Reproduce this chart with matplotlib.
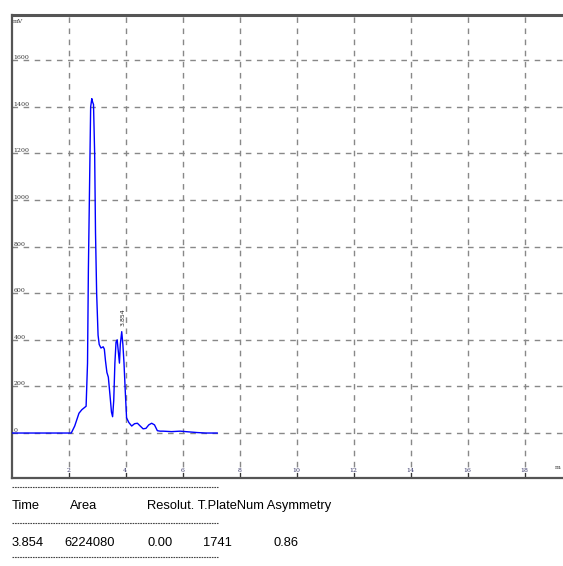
import matplotlib
matplotlib.use("Agg")
import matplotlib.pyplot as plt
from matplotlib.lines import Line2D

# =========================
# Data
# =========================
time_min = [0, 2.08, 2.2, 2.35, 2.45, 2.6, 2.65, 2.68, 2.72, 2.76, 2.8, 2.83,
            2.86, 2.9, 2.93, 2.97, 3.02, 3.06, 3.12, 3.2, 3.24, 3.28, 3.33,
            3.38, 3.44, 3.49, 3.53, 3.57, 3.61, 3.65, 3.69, 3.73, 3.77, 3.8,
            3.85, 3.89, 3.93, 3.97, 4.02, 4.1, 4.2, 4.3, 4.4, 4.5, 4.6, 4.7,
            4.8, 4.9, 5.0, 5.1, 5.2, 5.3, 5.6, 5.9, 6.2, 6.5, 6.8, 7.2]
signal_mv = [0, 0, 30, 85, 100, 115, 300, 700, 1050, 1400, 1435, 1420,
             1410, 1200, 860, 600, 420, 380, 365, 370, 360, 310, 260,
             240, 160, 90, 70, 140, 300, 390, 400, 350, 300, 380,
             435, 380, 300, 190, 65, 45, 30, 40, 42, 30, 18, 20,
             35, 42, 35, 10, 8, 8, 6, 8, 5, 2, 0, 0]

x_ticks = [2, 4, 6, 8, 10, 12, 14, 16, 18]
y_ticks = [0, 200, 400, 600, 800, 1000, 1200, 1400, 1600]

peak_time = 3.854
peak_height = 435

table_header = ["Time", "Area", "Resolut. T.PlateNum Asymmetry"]
table_values = ["3.854", "6224080", "0.00", "1741", "0.86"]

# =========================
# Plot
# =========================
plt.rcParams["font.family"] = ["Liberation Sans", "DejaVu Sans"]

fig = plt.figure(figsize=(5.63, 5.66), dpi=100)
ax = fig.add_axes([12 / 563, 88 / 566, 551 / 563, 463 / 566])

ax.plot(time_min, signal_mv, color="#0000ff", lw=1.0, zorder=3)

ax.set_xlim(0, 551 / 28.5)
ax.set_ylim(-193, 1794)

for xv in x_ticks:
    ax.axvline(xv, color="#888888", ls=(0, (4, 4)), lw=1, zorder=1)
for yv in y_ticks:
    ax.axhline(yv, color="#888888", ls=(0, (4, 4)), lw=1, zorder=1)

ax.set_xticks([])
ax.set_yticks([])

# tiny in-axes tick labels
for xv in x_ticks:
    ax.text(xv - 0.03, -170, str(xv), fontsize=4.5, ha="center", va="bottom",
            color="#333366", family="DejaVu Serif")
    ax.plot([xv, xv], [-193, -172], color="#333333", lw=0.8)
for yv in y_ticks:
    ax.text(0.05, yv, str(yv), fontsize=4.5, ha="left", va="bottom",
            color="#333333", family="DejaVu Serif")
ax.text(0.02, 1775, "mV", fontsize=4.5, ha="left", va="top",
        color="#333333", family="DejaVu Serif")
ax.text(19.15, -150, "m", fontsize=4.5, ha="center", va="center",
        color="#333333", family="DejaVu Serif")

ax.text(peak_time + 0.04, peak_height + 25, f"{peak_time:.3f}", rotation=90,
        fontsize=4.5, ha="center", va="bottom", color="#222222",
        family="DejaVu Sans")

for side in ["top", "left", "bottom"]:
    ax.spines[side].set_color("#555555")
ax.spines["top"].set_linewidth(2.2)
ax.spines["left"].set_linewidth(1.6)
ax.spines["bottom"].set_linewidth(1.6)
ax.spines["right"].set_visible(False)

# =========================
# Result table under the chart
# =========================
def dash_row(y_px):
    fig.add_artist(Line2D([12 / 563, 218 / 563], [1 - y_px / 566] * 2,
                          color="#444444", lw=0.8, ls=(0, (1.5, 0.8))))

dash_row(487)
dash_row(523)
dash_row(557)

fs = 9.3
hy = 1 - 506 / 566
fig.text(12 / 563, hy, table_header[0], fontsize=fs, va="center")
fig.text(70 / 563, hy, table_header[1], fontsize=fs, va="center")
fig.text(147 / 563, hy, table_header[2], fontsize=fs, va="center")

vy = 1 - 543 / 566
for xp, s in zip([12, 64, 147, 203, 274], table_values):
    fig.text(xp / 563, vy, s, fontsize=fs, va="center")

fig.savefig("out.png", dpi=100)
